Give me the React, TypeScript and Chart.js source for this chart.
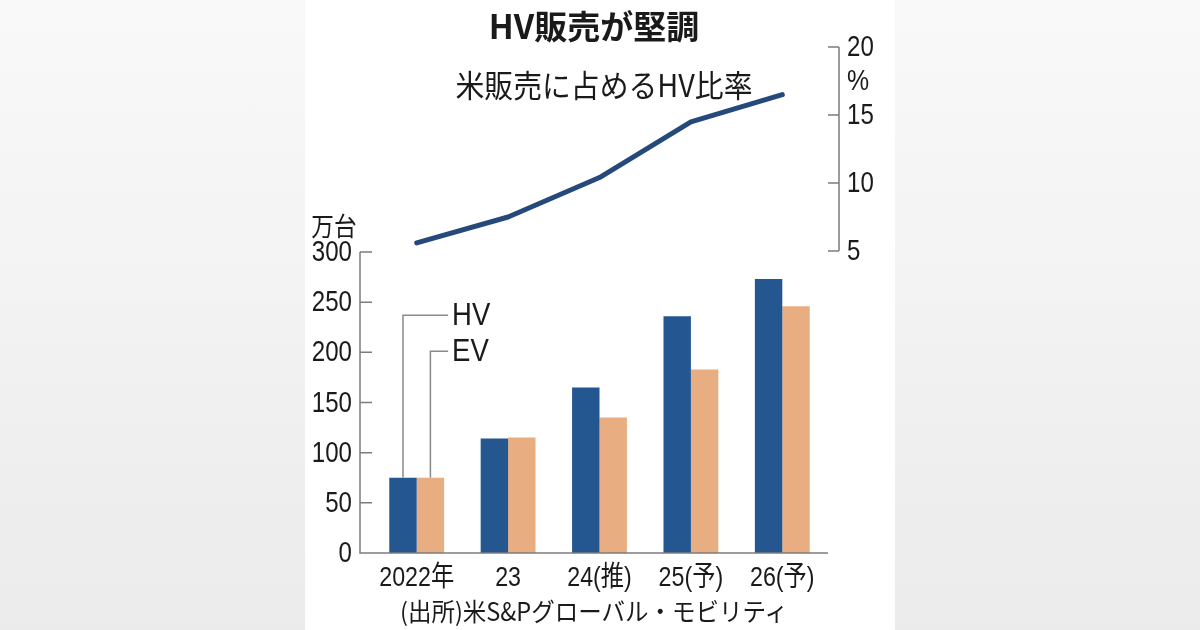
import { useEffect, useRef, type CSSProperties, type ReactNode } from 'react'
import { Chart, registerables, type Plugin } from 'chart.js'

Chart.register(...registerables)

// ---- data ----
const CATEGORIES  = ['2022年', '23', '24(推)', '25(予)', '26(予)']
const HV_SALES    = [75, 114, 165, 236, 273]      // 万台
const EV_SALES    = [75, 115, 135, 183, 246]      // 万台
const HV_SHARE    = [5.6, 7.5, 10.4, 14.5, 16.5]  // %
const SALES_TICKS = [0, 50, 100, 150, 200, 250, 300]
const SHARE_TICKS = [5, 10, 15, 20]
const LEGEND_LABELS = ['HV', 'EV']
const LEGEND_AT     = [237, 201]   // where each label sits on the 万台 scale

// ---- style ----
const HV_BLUE   = '#245690'
const EV_TAN    = '#e8ad80'
const LINE_BLUE = '#25497a'
const AXIS      = '#7c7c7c'
const INK       = '#1a1a1a'
const SANS      = "'Liberation Sans', 'Noto Sans CJK JP', sans-serif"
const CJK       = "'Noto Sans CJK JP', sans-serif"
const SQUEEZE   = 0.83   // the newspaper face is condensed

// plot box inside the 1200x630 canvas
const W = 1200, H = 630
const PLOT_LEFT = 371, PLOT_RIGHT = 828, PLOT_TOP = 47, PLOT_BOTTOM = 553
const SALES_TOP_PX = 252   // pixel row of 300万台
const SHARE_LOW_PX = 251   // pixel row of 5%
const AXIS_W = 60, X_AXIS_H = 40

const SALES_MAX = 300 * (PLOT_BOTTOM - PLOT_TOP) / (PLOT_BOTTOM - SALES_TOP_PX)
const SHARE_PX_PER = (SHARE_LOW_PX - PLOT_TOP) / (20 - 5)
const SHARE_MIN = 5 - (PLOT_BOTTOM - SHARE_LOW_PX) / SHARE_PX_PER

function narrowText(ctx: CanvasRenderingContext2D, text: string, x: number, y: number,
  align: CanvasTextAlign, size: number, sx = SQUEEZE) {
  ctx.save()
  ctx.translate(x, y)
  ctx.scale(sx, 1)
  ctx.font = `${size}px ${SANS}`
  ctx.textAlign = align
  ctx.textBaseline = 'middle'
  ctx.fillStyle = INK
  ctx.fillText(text, 0, 0)
  ctx.restore()
}

// axis lines with inward ticks, condensed tick labels, HV/EV leader lines
const axisMarks: Plugin<'bar'> = {
  id: 'axisMarks',
  afterDatasetsDraw(chart) {
    const { ctx, chartArea, scales } = chart
    const xs = scales.x
    const ys = scales.y
    const y2 = scales.y2
    ctx.save()
    ctx.strokeStyle = AXIS
    ctx.lineWidth = 1.5
    ctx.beginPath()
    const lx = chartArea.left - 11
    ctx.moveTo(lx, ys.getPixelForValue(300))
    ctx.lineTo(lx, ys.getPixelForValue(0))
    ctx.lineTo(chartArea.right, ys.getPixelForValue(0))
    SALES_TICKS.forEach((v) => {
      const y = ys.getPixelForValue(v)
      ctx.moveTo(lx, y)
      ctx.lineTo(lx + 12, y)
    })
    const rx = chartArea.right + 11
    ctx.moveTo(rx, y2.getPixelForValue(20))
    ctx.lineTo(rx, y2.getPixelForValue(5))
    SHARE_TICKS.forEach((v) => {
      const y = y2.getPixelForValue(v)
      ctx.moveTo(rx, y)
      ctx.lineTo(rx - 11, y)
    })
    ctx.stroke()

    SALES_TICKS.forEach((v) => narrowText(ctx, String(v), chartArea.left - 19, ys.getPixelForValue(v) + 1, 'right', 29))
    SHARE_TICKS.forEach((v) => narrowText(ctx, String(v), chartArea.right + 19, y2.getPixelForValue(v) + 1, 'left', 29))
    CATEGORIES.forEach((c, i) => narrowText(ctx, c, xs.getPixelForValue(i), chartArea.bottom + 25, 'center', 28))

    // leaders from the first pair of bars to the labels
    const evBar = chart.getDatasetMeta(1).data[0] as any
    const labelX = evBar.x + evBar.width / 2 + 8
    ctx.strokeStyle = '#8a8a8a'
    ctx.lineWidth = 1.5
    LEGEND_LABELS.forEach((name, i) => {
      const bar = chart.getDatasetMeta(i).data[0] as any
      const ly = ys.getPixelForValue(LEGEND_AT[i])
      ctx.beginPath()
      ctx.moveTo(bar.x, bar.y)
      ctx.lineTo(bar.x, ly)
      ctx.lineTo(labelX - 4, ly)
      ctx.stroke()
      narrowText(ctx, name, labelX, ly + 1, 'left', 32, 0.86)
    })
    ctx.restore()
  },
}

function Txt({ x, y, size, children, weight = 400, sx = 1, family = CJK }: {
  x: number; y: number; size: number; children: ReactNode; weight?: number; sx?: number; family?: string
}) {
  const style: CSSProperties = {
    position: 'absolute', left: x, top: y, transform: `translate(-50%, -50%) scaleX(${sx})`,
    fontFamily: family, fontSize: size, fontWeight: weight, lineHeight: 1, color: INK, whiteSpace: 'nowrap',
  }
  return <div style={style}>{children}</div>
}

export default function App() {
  const canvasRef = useRef<HTMLCanvasElement>(null)

  useEffect(() => {
    const canvas = canvasRef.current
    if (!canvas) return
    Chart.getChart(canvas)?.destroy()
    const hidden = { display: false }
    const chart = new Chart(canvas, {
      type: 'bar',
      data: {
        labels: CATEGORIES,
        datasets: [
          { label: 'HV', data: HV_SALES, backgroundColor: HV_BLUE, yAxisID: 'y', barPercentage: 1, categoryPercentage: 0.6 },
          { label: 'EV', data: EV_SALES, backgroundColor: EV_TAN, yAxisID: 'y', barPercentage: 1, categoryPercentage: 0.6 },
          {
            type: 'line' as any, label: '米販売に占めるHV比率', data: HV_SHARE, yAxisID: 'y2',
            borderColor: LINE_BLUE, borderWidth: 5, pointRadius: 0, tension: 0,
            borderCapStyle: 'round', borderJoinStyle: 'round',
          } as any,
        ],
      },
      options: {
        responsive: false,
        animation: false,
        layout: {
          padding: {
            left: PLOT_LEFT - AXIS_W,
            right: W - PLOT_RIGHT - AXIS_W,
            top: PLOT_TOP,
            bottom: H - PLOT_BOTTOM - X_AXIS_H,
          },
        },
        plugins: { legend: hidden, tooltip: { enabled: false } },
        scales: {
          x: {
            offset: true,
            grid: { display: false, drawTicks: false },
            border: hidden,
            ticks: { display: false, autoSkip: false },
            afterFit: (s: any) => { s.height = X_AXIS_H },
          },
          y: {
            position: 'left',
            min: 0,
            max: SALES_MAX,
            grid: { display: false, drawTicks: false },
            border: hidden,
            ticks: { display: false },
            afterBuildTicks: (s: any) => { s.ticks = SALES_TICKS.map((v) => ({ value: v })) },
            afterFit: (s: any) => { s.width = AXIS_W },
          },
          y2: {
            position: 'right',
            min: SHARE_MIN,
            max: 20,
            grid: { display: false, drawTicks: false },
            border: hidden,
            ticks: { display: false },
            afterBuildTicks: (s: any) => { s.ticks = SHARE_TICKS.map((v) => ({ value: v })) },
            afterFit: (s: any) => { s.width = AXIS_W },
          },
        },
      },
      plugins: [axisMarks],
    })
    return () => chart.destroy()
  }, [])

  return (
    <div style={{
      position: 'fixed', left: 0, top: 0, width: W, height: H, overflow: 'hidden',
      background: 'linear-gradient(to bottom, #f9f9f9, #ebebeb)',
    }}>
      <div style={{ position: 'absolute', left: 305, top: 0, width: 590, height: H, background: '#fff' }} />
      <canvas ref={canvasRef} width={W} height={H} style={{ position: 'absolute', left: 0, top: 0, width: W, height: H }} />
      <Txt x={594} y={25} size={33} weight={700}>HV販売が堅調</Txt>
      <Txt x={604} y={83} size={31} sx={0.93}>米販売に占めるHV比率</Txt>
      <Txt x={334} y={225} size={26} sx={0.87}>万台</Txt>
      <Txt x={858} y={80} size={30} sx={SQUEEZE} family={SANS}>%</Txt>
      <Txt x={594} y={610} size={25} sx={0.94}>(出所)米S&amp;Pグローバル・モビリティ</Txt>
    </div>
  )
}
